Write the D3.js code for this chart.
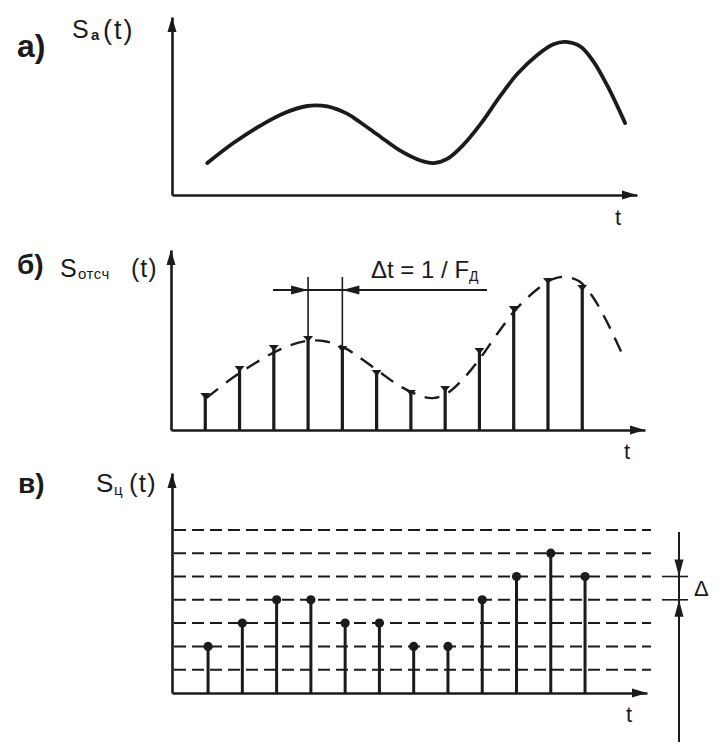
<!DOCTYPE html>
<html><head><meta charset="utf-8">
<script src="https://cdn.jsdelivr.net/npm/d3@7"></script>
<style>html,body{margin:0;padding:0;background:#fff;} svg{display:block;}</style>
</head><body><svg id="c" width="722" height="754"></svg>
<script>
// ---- data ----
// analog signal S_a(t): time (in sampling intervals) and amplitude (in quantization steps)
const analogT = [1.03,1.79,2.58,3.25,3.95,4.53,5.12,5.49,6.08,6.66,7.25,7.63,8.03,8.50,8.99,9.58,10.08,10.66,11.13,11.48,11.91,12.29,12.70,13.22];
const analogV = [1.37,2.23,2.98,3.50,3.82,3.80,3.48,3.12,2.50,1.90,1.48,1.37,1.55,2.15,3.02,4.25,5.20,6.01,6.47,6.57,6.38,5.75,4.70,3.09];
// samples S_отсч(t)
const sampleT = [1,2,3,4,5,6,7,8,9,10,11,12];
const sampleV = [1.50,2.66,3.56,3.95,3.52,2.49,1.63,1.80,3.43,5.24,6.44,6.14];
// quantized samples S_ц(t)
const quantV = [2,3,4,4,3,3,2,2,4,5,6,5];
// quantization levels
const levels = [1,2,3,4,5,6,7];

// ---- layout ----
const INK = "#1b1b1b";
const STEP = 34.27;     // px per sampling interval
const UNIT = 23.3;      // px per quantization step
const FONT = "'Liberation Sans', Arial, sans-serif";
const svg = d3.select("#c");

function makePanel(cfg){
  const x = d3.scaleLinear().domain([0, (cfg.xEnd - cfg.x0)/STEP]).range([cfg.x0, cfg.xEnd]);
  const y = d3.scaleLinear().domain([0, (cfg.base - cfg.top)/UNIT]).range([cfg.base, cfg.top]);
  const g = svg.append("g");
  g.append("g").attr("transform", `translate(0,${cfg.base})`)
    .call(d3.axisBottom(x).tickValues([]).tickSizeOuter(0));
  g.append("g").attr("transform", `translate(${cfg.x0},0)`)
    .call(d3.axisLeft(y).tickValues([]).tickSizeOuter(0));
  g.selectAll(".domain").attr("stroke", INK).attr("stroke-width", 2.6);
  const xe = x.range()[1], yt = y.range()[1];
  g.append("path").attr("d", `M${xe},${cfg.base} L${xe-15},${cfg.base-4.5} L${xe-15},${cfg.base+4.5}Z`).attr("fill", INK);
  g.append("path").attr("d", `M${cfg.x0},${yt} L${cfg.x0-4.5},${yt+15} L${cfg.x0+4.5},${yt+15}Z`).attr("fill", INK);
  return {x, y, g};
}

function txt(x, y, s, size, opts={}){
  const t = svg.append("text").attr("x", x).attr("y", y).text(s)
    .attr("font-family", FONT).attr("font-size", size).attr("fill", INK);
  if (opts.bold) t.attr("font-weight", "bold");
  if (opts.ls) t.attr("letter-spacing", opts.ls);
  return t;
}

const analog = analogT.map((t,i)=>({t, v: analogV[i]}));

// ---- panel а ----
{
  const {x, y, g} = makePanel({x0:172, xEnd:637, base:195, top:17});
  const line = d3.line().x(d=>x(d.t)).y(d=>y(d.v)).curve(d3.curveCatmullRom.alpha(0.5));
  g.append("path").datum(analog).attr("d", line).attr("fill","none")
    .attr("stroke", INK).attr("stroke-width", 3.8).attr("stroke-linecap","round");
  txt(17, 57, "а)", 32, {bold:true});
  txt(72, 38, "S", 25);
  txt(91, 40, "а", 15, {bold:true});
  txt(103, 39, "(t)", 27, {ls:2});
  txt(615, 225, "t", 22);
}

// ---- panel б ----
{
  const {x, y, g} = makePanel({x0:171, xEnd:645, base:430, top:250});
  const line = d3.line().x(d=>x(d.t)).y(d=>y(d.v)).curve(d3.curveCatmullRom.alpha(0.5));
  g.append("path").datum(analog).attr("d", line).attr("fill","none")
    .attr("stroke", INK).attr("stroke-width", 2.4).attr("stroke-dasharray", "15,10");
  const samples = sampleT.map((t,i)=>({t, v: sampleV[i]}));
  g.selectAll(".stem").data(samples).enter().append("line")
    .attr("x1", d=>x(d.t)).attr("x2", d=>x(d.t))
    .attr("y1", y(0)).attr("y2", d=>y(d.v))
    .attr("stroke", INK).attr("stroke-width", 3.2);
  g.selectAll(".cap").data(samples).enter().append("path")
    .attr("d", d=>`M${x(d.t)-5},${y(d.v)-2} L${x(d.t)+5},${y(d.v)-2} L${x(d.t)},${y(d.v)+4}Z`)
    .attr("fill", INK);
  // Δt annotation between samples 4 and 5
  const a = x(sampleT[3]), b = x(sampleT[4]), yd = 290;
  g.append("line").attr("x1",a).attr("x2",a).attr("y1",277).attr("y2",y(sampleV[3])).attr("stroke",INK).attr("stroke-width",1.6);
  g.append("line").attr("x1",b).attr("x2",b).attr("y1",277).attr("y2",y(sampleV[4])).attr("stroke",INK).attr("stroke-width",1.6);
  g.append("line").attr("x1",273).attr("x2",487).attr("y1",yd).attr("y2",yd).attr("stroke",INK).attr("stroke-width",1.8);
  g.append("path").attr("d",`M${a},${yd} L${a-17},${yd-4.5} L${a-17},${yd+4.5}Z`).attr("fill",INK);
  g.append("path").attr("d",`M${b},${yd} L${b+17},${yd-4.5} L${b+17},${yd+4.5}Z`).attr("fill",INK);
  const t = txt(371, 278, "Δt = 1 / F", 24);
  t.append("tspan").attr("font-size", 14).attr("dy", 3).text("Д");
  txt(17, 274, "б)", 28, {bold:true});
  txt(60, 277, "S", 25);
  txt(78, 279, "отсч", 15, {ls:0.5});
  txt(131, 277, "(t)", 25, {ls:1});
  txt(624, 459, "t", 22);
}

// ---- panel в ----
{
  const {x, y, g} = makePanel({x0:172, xEnd:647, base:693, top:473});
  const xs = d3.scaleLinear().domain([0,1]).range([173.8, 173.8+STEP]);
  g.selectAll(".lvl").data(levels).enter().append("line")
    .attr("x1", 174).attr("x2", 651).attr("y1", d=>y(d)).attr("y2", d=>y(d))
    .attr("stroke", INK).attr("stroke-width", 2).attr("stroke-dasharray", "12,6");
  const q = sampleT.map((t,i)=>({t, v: quantV[i]}));
  g.selectAll(".qstem").data(q).enter().append("line")
    .attr("x1", d=>xs(d.t)).attr("x2", d=>xs(d.t))
    .attr("y1", y(0)).attr("y2", d=>y(d.v))
    .attr("stroke", INK).attr("stroke-width", 3);
  g.selectAll(".dot").data(q).enter().append("circle")
    .attr("cx", d=>xs(d.t)).attr("cy", d=>y(d.v)).attr("r", 4.6).attr("fill", INK);
  // Δ annotation between levels 4 and 5
  const xa = 679, y5 = y(5), y4 = y(4);
  g.append("line").attr("x1",xa).attr("x2",xa).attr("y1",532).attr("y2",742).attr("stroke",INK).attr("stroke-width",2);
  g.append("path").attr("d",`M${xa},${y5} L${xa-4.5},${y5-17} L${xa+4.5},${y5-17}Z`).attr("fill",INK);
  g.append("path").attr("d",`M${xa},${y4} L${xa-4.5},${y4+17} L${xa+4.5},${y4+17}Z`).attr("fill",INK);
  [y5,y4].forEach(yy=>g.append("line").attr("x1",662).attr("x2",688).attr("y1",yy).attr("y2",yy).attr("stroke",INK).attr("stroke-width",1.6));
  txt(694, 596, "Δ", 22);
  txt(18, 493, "в)", 28, {bold:true});
  txt(96, 492, "S", 26);
  txt(114, 495, "ц", 15);
  txt(129, 492, "(t)", 26, {ls:1});
  txt(626, 722, "t", 22);
}
</script>
</body></html>
